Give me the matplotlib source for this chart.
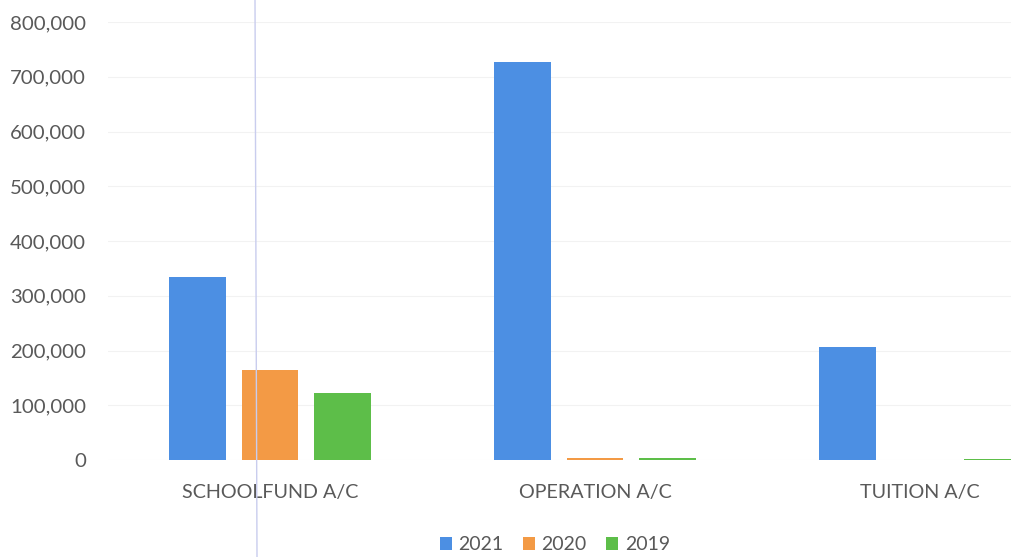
import numpy as np
import matplotlib.pyplot as plt
from matplotlib.lines import Line2D

# -------------------------------------------------------------
# Account balances per year
# -------------------------------------------------------------
accounts = ['SCHOOLFUND A/C', 'OPERATION A/C', 'TUITION A/C']
years = ['2021', '2020', '2019']
vals_2021 = [335000, 727000, 207000]
vals_2020 = [165000, 3000, 0]
vals_2019 = [122000, 3000, 2000]
yticks = [0, 100000, 200000, 300000, 400000, 500000, 600000, 700000, 800000]

colors = ['#4C8FE3', '#F39A45', '#5DBE49']
text_col = '#595959'

plt.rcParams['font.family'] = ['Lato', 'DejaVu Sans']

fig = plt.figure(figsize=(10.11, 5.57), dpi=100)
# plot area: category slots are 325 px wide, the last one runs past the right edge
W, H = 1011.0, 557.0
ax = fig.add_axes([107.5 / W, (H - 460) / H, 975 / W, 438 / H])

x = np.arange(len(accounts))
width = 0.175
step = 0.222
series = [vals_2021, vals_2020, vals_2019]
for i, (yr, vals, c) in enumerate(zip(years, series, colors)):
    ax.bar(x + (i - 1) * step, vals, width, color=c, label=yr, zorder=3)

ax.set_xlim(-0.5, 2.5)
ax.set_ylim(0, 800000)
ax.set_yticks(yticks)
ax.set_yticklabels([f'{v:,}' for v in yticks])
ax.set_xticks(x)
ax.set_xticklabels(accounts)
ax.tick_params(axis='y', length=0, pad=15.5, labelsize=14.7, labelcolor=text_col)
ax.tick_params(axis='x', length=0, pad=17, labelsize=14.2, labelcolor=text_col)
ax.grid(axis='y', color='#f2f2f2', linewidth=0.8, zorder=0)
for s in ax.spines.values():
    s.set_visible(False)

leg = fig.legend(loc='center', bbox_to_anchor=(555 / W, (H - 545) / H), ncol=3,
                 frameon=False, fontsize=14, handlelength=0.6, handleheight=0.6,
                 handletextpad=0.35, columnspacing=1.0)
for t in leg.get_texts():
    t.set_color(text_col)

# faint crease line across the sheet
fig.add_artist(Line2D([255 / W, 257 / W], [1, 0], color='#c9cdee', linewidth=1.0))

fig.savefig('out.png', dpi=100)
